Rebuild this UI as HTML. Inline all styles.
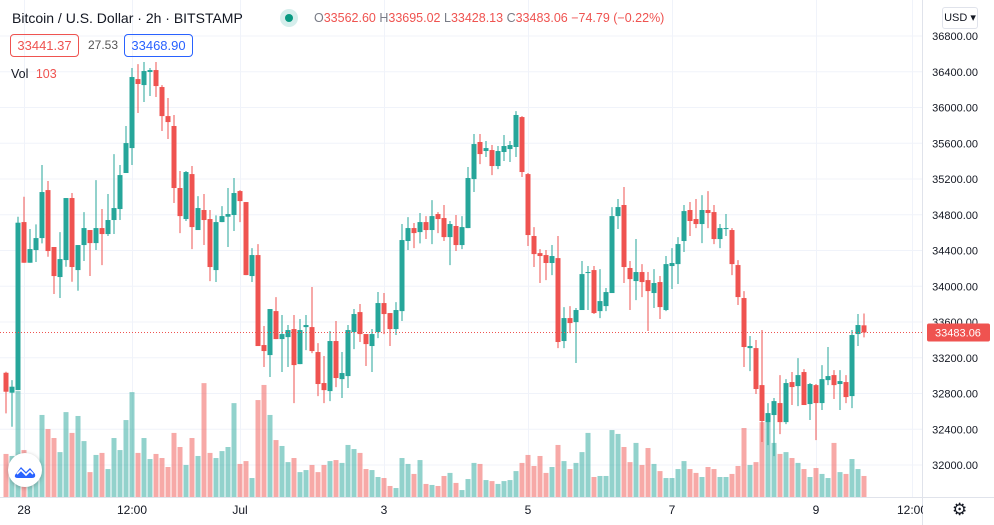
<!DOCTYPE html>
<html><head><meta charset="utf-8"><style>
body{margin:0;background:#fff;font-family:"Liberation Sans",sans-serif;}
#wrap{position:relative;width:994px;height:525px;overflow:hidden;}
svg{position:absolute;left:0;top:0;}
.hdr{position:absolute;white-space:nowrap;}
</style></head><body>
<div id="wrap">
<svg id="chart" width="994" height="525"></svg>
<div class="hdr" style="left:12px;top:10px;font-size:14px;color:#131722;">Bitcoin / U.S. Dollar · 2h · BITSTAMP</div>
<div class="hdr" style="left:280px;top:9px;width:18px;height:18px;border-radius:9px;background:#d5eeec;"><div style="position:absolute;left:5px;top:5px;width:8px;height:8px;border-radius:4px;background:#089981;"></div></div>
<div class="hdr" style="left:314px;top:11px;font-size:12.5px;color:#787b86;">O<span style="color:#ef5350">33562.60</span> H<span style="color:#ef5350">33695.02</span> L<span style="color:#ef5350">33428.13</span> C<span style="color:#ef5350">33483.06</span> <span style="color:#ef5350">−74.79 (−0.22%)</span></div>
<div class="hdr" style="left:10px;top:34px;width:67px;height:21px;border:1px solid #ef5350;border-radius:4px;color:#ef5350;font-size:13px;line-height:21px;text-align:center;">33441.37</div>
<div class="hdr" style="left:88px;top:38px;font-size:12px;color:#555;">27.53</div>
<div class="hdr" style="left:124px;top:34px;width:67px;height:21px;border:1px solid #2962ff;border-radius:4px;color:#2962ff;font-size:13px;line-height:21px;text-align:center;">33468.90</div>
<div class="hdr" style="left:11px;top:67px;font-size:12.5px;color:#131722;">Vol <span style="color:#ef5350;margin-left:4px">103</span></div>
<div class="hdr" style="left:942px;top:7px;width:34px;height:20px;border:1px solid #e0e3eb;border-radius:3px;font-size:11px;line-height:20px;text-align:center;color:#131722;">USD ▾</div>
<div class="hdr" style="left:8px;top:453px;width:34px;height:34px;border-radius:17px;background:#fff;box-shadow:0 1px 4px rgba(0,0,0,.25);">
<svg width="34" height="34" style="position:relative"><path d="M7 22 L13 14 L18 19 L22 15 L27 21 Q28 25 24 25 L10 25 Q6 25 7 22Z" fill="#2962ff"/><path d="M9 21 L13 17 L18 22 L22 18 L25 21" stroke="#fff" stroke-width="1.6" fill="none"/></svg></div>
<div class="hdr" style="left:952px;top:500px;font-size:17px;color:#131722;">⚙</div>
</div>
<script>
const opens=[33032,32809,32838,34718,34263,34405,34539,35076,34439,34103,34293,34987,34181,34461,34629,34483,34651,34584,34741,34864,35267,35546,36318,36251,36397,36419,36229,35904,35793,35099,34752,35255,34629,34853,34752,34181,34718,34778,34797,35065,34942,34114,34349,33342,33230,33722,33409,33431,33521,33129,33543,33543,33264,32917,32827,33387,32961,32995,33487,33711,33465,33331,33487,33812,33700,33521,33722,34506,34651,34606,34718,34629,34808,34763,34550,34674,34461,34651,35199,35614,35513,35524,35345,35502,35535,35558,35893,35255,34562,34371,34349,34260,34315,33387,33644,33599,33734,34151,34181,33722,33778,33924,34785,34909,34204,34058,34159,34069,33924,34047,33734,34226,34248,34506,34853,34752,34696,34853,34830,34528,34640,34629,34237,33868,33308,33308,32894,32480,32559,32693,32480,32928,32883,33040,32682,32894,32693,32950,33006,32906,32928,32771,33465,33562.6];
const highs=[33044,32950,34778,35002,34640,34692,35356,35177,34439,34606,34987,35043,34461,34830,34629,35188,34864,35032,35479,35356,35793,36442,36486,36509,36442,36509,36251,36106,35916,35289,35289,35345,35009,35032,34853,34793,34897,35099,35211,35076,34942,34427,34472,33555,33745,33879,33678,33566,33678,33633,33678,33991,33364,33219,33499,33611,33264,33566,33745,33801,33465,33521,33935,33924,33700,33823,34696,34774,34707,34819,34785,34964,34830,34909,34730,34797,34785,35334,35703,35703,35625,35580,35569,35692,35625,35960,35904,35267,34662,34416,34405,34461,34562,33767,33778,33756,34282,34226,34226,34192,33980,34886,34976,35110,34282,34528,34248,34159,34192,34114,34338,34427,34550,34909,34942,34976,35020,35065,34909,34696,34808,34651,34293,33946,33443,33398,33510,32693,32749,33006,32961,33040,33196,33073,32917,32906,33118,33320,33062,33062,33006,33510,33689,33695.02];
const lows=[32577,32428,32838,34263,34263,34271,34480,34330,33913,33868,34218,34051,33950,34282,34114,34405,34237,34562,34584,34741,35267,35356,35938,36061,36128,36117,35737,35647,34931,34595,34730,34416,34629,34461,34058,34047,34718,34439,34618,34718,34125,34047,33331,33096,32984,33409,33040,33096,32693,33129,33286,33252,32771,32693,32715,32872,32749,32861,33297,33376,33107,33040,33420,33465,33331,33454,33611,34405,34427,34480,34528,34472,34595,34506,34237,34394,34416,34651,35054,35367,35446,35244,35311,35401,35390,35446,35222,34450,34215,34036,34069,34125,33308,33308,33476,33141,33734,33734,33689,33644,33722,33924,34640,34036,33734,33845,33879,33499,33756,33633,33722,33969,34025,34383,34562,34651,34483,34651,34472,34427,34562,34125,33790,33096,33051,32794,32257,32223,32100,32346,32458,32671,32659,32671,32503,32279,32615,32894,32738,32615,32693,32637,33331,33428.13];
const closes=[32820,32876,34711,34263,34416,34539,35054,34394,34114,34304,34987,34215,34461,34651,34483,34651,34584,34741,34875,35244,35602,36341,36263,36408,36419,36240,35904,35837,35099,34785,35278,34662,34875,34741,34215,34718,34785,34808,35043,34953,34125,34349,33331,33275,33745,33409,33465,33510,33118,33510,33566,33275,32906,32838,33387,32973,33029,33510,33689,33465,33353,33465,33812,33689,33521,33734,34517,34651,34595,34718,34629,34785,34752,34550,34696,34461,34662,35211,35591,35479,35546,35345,35513,35569,35580,35916,35278,34573,34360,34338,34260,34338,33376,33644,33588,33734,34136,34159,33700,33834,33935,34785,34886,34215,34080,34159,34047,33946,34036,33767,34248,34260,34472,34841,34730,34696,34853,34819,34528,34651,34651,34248,33879,33320,33331,32850,32492,32581,32715,32480,32917,32872,33006,32671,32906,32693,32961,32995,32894,32939,32760,33454,33566,33483.06];
const volumes=[211,201,519,230,127,127,402,333,289,220,416,314,397,274,122,206,216,137,289,230,377,514,216,289,186,211,191,147,314,245,157,289,201,558,216,191,225,245,460,162,176,93,475,549,402,279,250,171,191,122,132,157,122,157,176,181,167,255,235,216,137,132,98,93,54,44,191,162,113,181,64,59,54,103,118,69,34,88,167,162,83,78,64,78,83,127,167,206,152,201,118,147,255,176,137,167,220,314,98,103,103,328,309,245,171,265,157,240,162,127,93,93,137,176,137,118,98,147,137,98,98,113,152,338,157,171,367,372,265,211,220,191,167,137,98,142,113,93,265,122,113,186,137,103];
const priceTicks=[36800,36400,36000,35600,35200,34800,34400,34000,33600,33200,32800,32400,32000];
const timeLabels=["28","12:00","Jul","3","5","7","9","12:00"];
const timeLabelIdx=[3,21,39,63,87,111,135,151];
const lastPrice=33483.06;

const NS="http://www.w3.org/2000/svg";
const svg=document.getElementById('chart');
const PLOT_R=922, AXIS_Y=497;
const yP=p=>36+(36800-p)*(429/4800);
const xI=i=>6*(i+1);
const yV=v=>AXIS_Y-v/4.9;
const G='#26a69a', R='#ef5350';
function mk(tag,attrs){const e=document.createElementNS(NS,tag);for(const k in attrs)e.setAttribute(k,attrs[k]);svg.appendChild(e);return e;}

priceTicks.forEach(p=>{const l=mk('line',{x1:0,x2:PLOT_R,y1:yP(p),y2:yP(p),stroke:'#f0f3fa','stroke-width':1});

});
timeLabelIdx.forEach(i=>{const l=mk('line',{x1:xI(i)+0.5,x2:xI(i)+0.5,y1:0,y2:AXIS_Y,stroke:'#f0f3fa','stroke-width':1});

});

volumes.forEach((v,i)=>{const up=closes[i]>=opens[i];const y=yV(v);
const r=mk('rect',{x:xI(i)-2.5,y:y,width:5,height:AXIS_Y-y,fill:up?G:R,'fill-opacity':0.5});

});

opens.forEach((o,i)=>{const c=closes[i];const up=c>=o;const col=up?G:R;const x=xI(i);
const w=mk('line',{x1:x,x2:x,y1:yP(highs[i]),y2:yP(lows[i]),stroke:col,'stroke-width':1});


const top=yP(Math.max(o,c)),bot=yP(Math.min(o,c));
const b=mk('rect',{x:x-2.5,y:top,width:5,height:Math.max(1,bot-top),fill:col});

});

const lp=mk('line',{x1:0,x2:PLOT_R,y1:yP(lastPrice),y2:yP(lastPrice),stroke:R,'stroke-width':1,'stroke-dasharray':'1,2'});



const ra=mk('rect',{x:PLOT_R,y:0,width:72,height:525,fill:'#fff'});


const ba=mk('rect',{x:0,y:AXIS_Y,width:994,height:28,fill:'#fff'});


const l1=mk('line',{x1:PLOT_R+0.5,x2:PLOT_R+0.5,y1:0,y2:525,stroke:'#e0e3eb'});


const l2=mk('line',{x1:0,x2:994,y1:AXIS_Y+0.5,y2:AXIS_Y+0.5,stroke:'#e0e3eb'});



priceTicks.forEach(p=>{const t=mk('text',{x:978,y:yP(p)+4,'font-size':11,fill:'#131722','text-anchor':'end','font-family':'Liberation Sans, sans-serif'});
t.textContent=p.toFixed(2);

});
timeLabels.forEach((s,k)=>{const t=mk('text',{x:xI(timeLabelIdx[k]),y:514,'font-size':12,fill:'#131722','text-anchor':'middle','font-family':'Liberation Sans, sans-serif'});
t.textContent=s;

});
const cv=mk('rect',{x:PLOT_R+1,y:AXIS_Y+1,width:26,height:27,fill:'#fff'});



const ly=yP(lastPrice);
const lb=mk('rect',{x:927,y:ly-9,width:63,height:18,rx:2,fill:R});


const lt=mk('text',{x:958,y:ly+4,'font-size':11,fill:'#fff','text-anchor':'middle','font-family':'Liberation Sans, sans-serif'});
lt.textContent=lastPrice.toFixed(2);


</script>
</body></html>
